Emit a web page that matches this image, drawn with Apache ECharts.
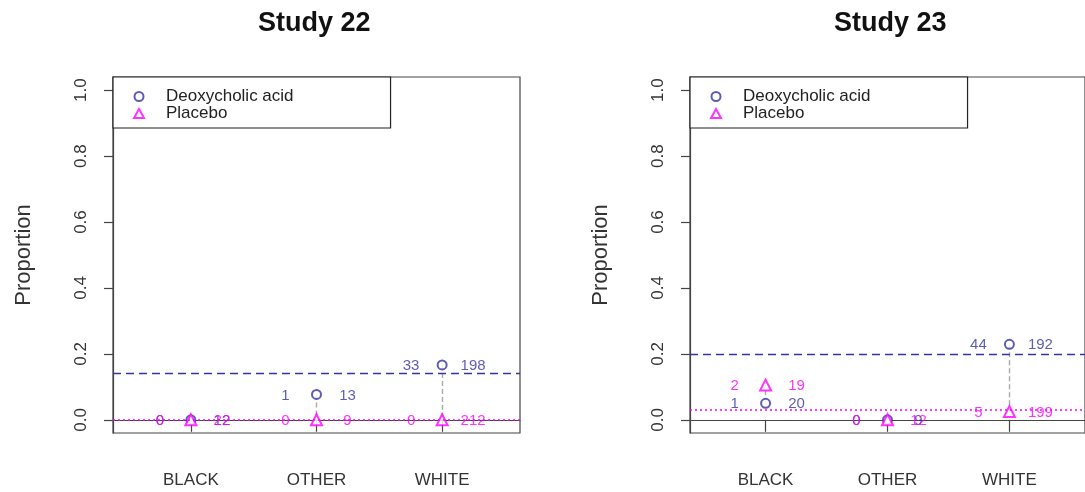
<!DOCTYPE html>
<html>
<head>
<meta charset="utf-8">
<script src="https://cdn.jsdelivr.net/npm/echarts@6/dist/echarts.min.js"></script>
<style>
html,body{margin:0;padding:0;background:#fff;}
#chart{width:1085px;height:492px;}
</style>
</head>
<body>
<div id="chart"></div>
<script>
// ---- data ----
const categories = ['BLACK', 'OTHER', 'WHITE'];
const yTicks = [0, 0.2, 0.4, 0.6, 0.8, 1.0];
const studyTitles = ['Study 22', 'Study 23'];
const groupNames = ['Deoxycholic acid', 'Placebo'];

// Study 22
const s22DrugEvents = [0, 1, 33];
const s22DrugTotals = [12, 13, 198];
const s22PlacEvents = [0, 0, 0];
const s22PlacTotals = [22, 9, 212];
const s22DrugOverall = 0.144;
const s22PlacOverall = 0.0;

// Study 23
const s23DrugEvents = [1, 0, 44];
const s23DrugTotals = [20, 9, 192];
const s23PlacEvents = [2, 0, 5];
const s23PlacTotals = [19, 12, 199];
const s23DrugOverall = 0.199;
const s23PlacOverall = 0.030;

// ---- styling ----
const BLUE = '#3434a6';
const PINK = '#ff00ff';
const GRAY = '#a8a8a8';
const TXT = '#222';
const FONT = 'Liberation Sans, Arial, sans-serif';

const studies = [
  {dE: s22DrugEvents, dN: s22DrugTotals, pE: s22PlacEvents, pN: s22PlacTotals, dRef: s22DrugOverall, pRef: s22PlacOverall},
  {dE: s23DrugEvents, dN: s23DrugTotals, pE: s23PlacEvents, pN: s23PlacTotals, dRef: s23DrugOverall, pRef: s23PlacOverall}
];

const gridLefts = [113, 690];
const grids = [], xAxes = [], yAxes = [], series = [], titles = [], legends = [];

studies.forEach((s, k) => {
  grids.push({left: gridLefts[k], top: 77, width: 407, height: 356, show: true,
    borderColor: '#444', borderWidth: 1.2, backgroundColor: 'transparent', containLabel: false});
  xAxes.push({type: 'value', gridIndex: k, min: 0.38, max: 3.62,
    axisLine: {show: true, lineStyle: {color: '#444', width: 1.2}},
    axisTick: {show: true, customValues: categories.map((c, i) => i + 1), length: 12, lineStyle: {color: '#444', width: 1.2}},
    axisLabel: {show: true, customValues: categories.map((c, i) => i + 1), formatter: v => categories[Math.round(v) - 1] || '',
      margin: 39, fontSize: 17, color: '#333', fontFamily: FONT},
    splitLine: {show: false}});
  yAxes.push({type: 'value', gridIndex: k, min: -0.04, max: 1.04,
    name: 'Proportion', nameLocation: 'middle', nameGap: 78,
    nameTextStyle: {fontSize: 22, color: '#333', fontFamily: FONT},
    axisLine: {show: true, lineStyle: {color: '#444', width: 1.2}},
    axisTick: {show: true, customValues: yTicks, length: 9, lineStyle: {color: '#444', width: 1.2}},
    axisLabel: {show: true, customValues: yTicks, rotate: 90, margin: 23, fontSize: 17, color: '#333', fontFamily: FONT,
      formatter: v => v.toFixed(1)},
    splitLine: {show: false}});

  const dProp = s.dE.map((e, i) => e / s.dN[i]);
  const pProp = s.pE.map((e, i) => e / s.pN[i]);

  // connectors
  series.push({type: 'lines', coordinateSystem: 'cartesian2d', xAxisIndex: k, yAxisIndex: k, silent: true, z: 1,
    lineStyle: {color: GRAY, width: 1.4, type: [5, 3], opacity: 1},
    data: categories.map((c, i) => ({coords: [[i + 1, dProp[i]], [i + 1, pProp[i]]]}))});

  // drug points + overall line
  series.push({name: groupNames[0], type: 'scatter', xAxisIndex: k, yAxisIndex: k, z: 3,
    symbol: 'emptyCircle', symbolSize: 9,
    itemStyle: {color: BLUE, borderColor: BLUE, borderWidth: 1.3},
    data: categories.map((c, i) => [i + 1, dProp[i]]),
    markLine: {silent: true, symbol: 'none', label: {show: false},
      lineStyle: {color: BLUE, type: [8, 5], width: 1.3}, data: [{yAxis: s.dRef}]}});
  // placebo points + overall line
  series.push({name: groupNames[1], type: 'scatter', xAxisIndex: k, yAxisIndex: k, z: 4,
    symbol: 'emptyTriangle', symbolSize: 11,
    itemStyle: {color: PINK, borderColor: PINK, borderWidth: 1.3},
    data: categories.map((c, i) => [i + 1, pProp[i]]),
    markLine: {silent: true, symbol: 'none', label: {show: false},
      lineStyle: {color: PINK, type: [2, 3], width: 1.5}, data: [{yAxis: s.pRef}]}});

  // count labels
  const lab = (name, props, vals, color, dx, z) => ({name, type: 'scatter', xAxisIndex: k, yAxisIndex: k, z,
    symbolSize: 1, itemStyle: {color: 'rgba(0,0,0,0)'}, silent: true,
    label: {show: true, position: 'inside', offset: [dx, 1], fontSize: 15, color, fontFamily: FONT,
      formatter: p => String(vals[p.dataIndex])},
    data: categories.map((c, i) => [i + 1, props[i]])});
  series.push(lab('dEv' + k, dProp, s.dE, BLUE, -31, 5));
  series.push(lab('dN' + k, dProp, s.dN, BLUE, 31, 5));
  series.push(lab('pEv' + k, pProp, s.pE, PINK, -31, 6));
  series.push(lab('pN' + k, pProp, s.pN, PINK, 31, 6));

  titles.push({text: studyTitles[k], left: [258, 834][k], top: 10, padding: 0,
    textStyle: {fontSize: 27, fontWeight: 'bold', color: '#111', fontFamily: FONT}});
  legends.push({data: groupNames, orient: 'vertical', left: gridLefts[k], top: 77,
    padding: [11, 97, 6, 20], itemGap: 0, itemWidth: 10, itemHeight: 9,
    backgroundColor: '#fff', borderColor: '#222', borderWidth: 1.2, borderRadius: 0,
    selectedMode: false,
    textStyle: {fontSize: 17, color: TXT, fontFamily: FONT, lineHeight: 16, padding: [0, 0, 0, 17]}});
});

const chart = echarts.init(document.getElementById('chart'), null, {renderer: 'canvas'});
chart.setOption({
  animation: false,
  backgroundColor: '#fff',
  title: titles,
  legend: legends,
  grid: grids,
  xAxis: xAxes,
  yAxis: yAxes,
  series: series
});
</script>
</body>
</html>
